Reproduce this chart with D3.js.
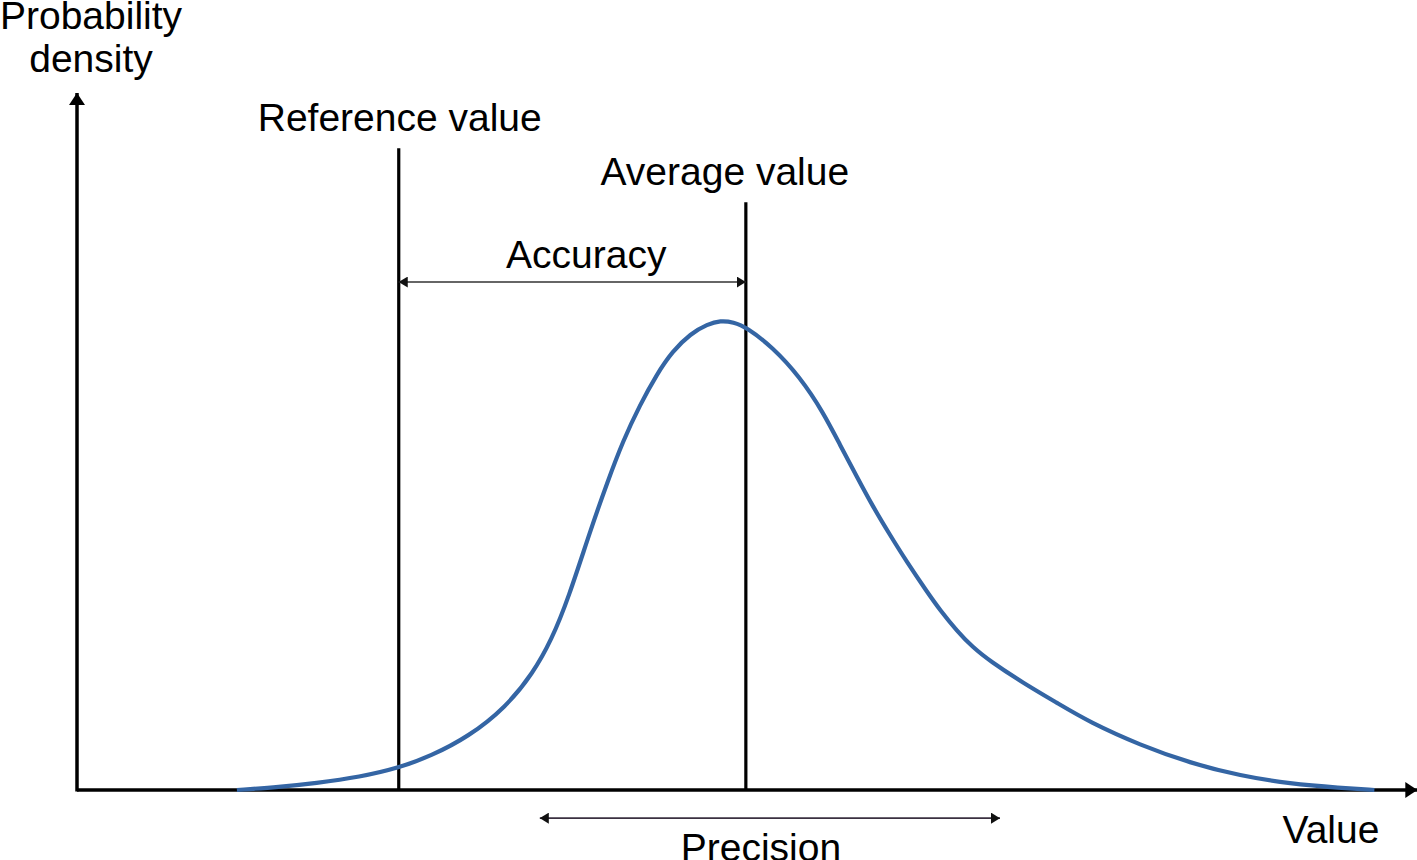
<!DOCTYPE html>
<html>
<head>
<meta charset="utf-8">
<script src="https://cdn.jsdelivr.net/npm/d3@7"></script>
<style>
  html, body { margin: 0; padding: 0; background: #fff; }
  svg { display: block; }
  text { font-family: "Liberation Sans", Arial, sans-serif; fill: #000; }
</style>
</head>
<body>
<div id="chart"></div>
<script>
const values = [12.3, 15.6, 18.3, 21.8, 24.7, 27.2, 30.1, 33.0, 35.1, 36.5, 37.8, 39.5, 40.8, 42.0, 43.3, 44.6, 45.8, 47.2, 48.5, 49.5, 50.5, 51.5, 53.5, 55.6, 57.4, 58.7, 60.0, 61.2, 62.5, 63.8, 65.4, 66.4, 67.7, 68.9, 70.2, 72.8, 75.4, 77.9, 81.8, 85.6, 89.5, 93.3, 97.2, 99.8];
const density = [0, 0.06, 0.13, 0.25, 0.42, 0.65, 1.02, 1.59, 2.25, 2.88, 3.68, 4.99, 5.91, 6.7, 7.39, 7.98, 8.42, 8.76, 8.94, 9.01, 8.98, 8.88, 8.5, 7.93, 7.25, 6.62, 6.01, 5.45, 4.91, 4.39, 3.8, 3.45, 3.05, 2.74, 2.48, 2.05, 1.67, 1.3, 0.86, 0.52, 0.27, 0.12, 0.04, 0];

// reference / average markers
const markerNames = ["Reference value", "Average value"];
const markerValues = [24.75, 51.45];
const markerTops = [12.32, 11.28];

// accuracy and precision spans
const accuracySpan = [24.75, 51.45];
const accuracyLevel = 9.75;
const precisionSpan = [35.6, 71.0];
const precisionLevel = -0.54;

const axisEnd = [103.1, 13.38];
const axisTitles = ["Value", ["Probability", "density"]];

const width = 1417;
const height = 860;

const x = d3.scaleLinear().domain([0, 100]).range([77, 1377]);
const y = d3.scaleLinear().domain([0, 10]).range([790, 269]);

const svg = d3
  .select("#chart")
  .append("svg")
  .attr("width", width)
  .attr("height", height);

const defs = svg.append("defs");
const addMarker = (id, w, h, color) => {
  defs
    .append("marker")
    .attr("id", id)
    .attr("markerUnits", "userSpaceOnUse")
    .attr("viewBox", `0 ${-h} ${w} ${2 * h}`)
    .attr("refX", w)
    .attr("refY", 0)
    .attr("markerWidth", w)
    .attr("markerHeight", 2 * h)
    .attr("orient", "auto-start-reverse")
    .append("path")
    .attr("d", `M0,${-h}L${w},0L0,${h}Z`)
    .attr("fill", color);
};
addMarker("axis-head", 12, 8, "#000");
addMarker("span-head", 9, 5.5, "#111");

// axes
svg
  .append("line")
  .attr("x1", x(0))
  .attr("y1", y(0))
  .attr("x2", x(axisEnd[0]))
  .attr("y2", y(0))
  .attr("stroke", "#000")
  .attr("stroke-width", 3.5)
  .attr("marker-end", "url(#axis-head)");

svg
  .append("line")
  .attr("x1", x(0))
  .attr("y1", y(0) + 1.5)
  .attr("x2", x(0))
  .attr("y2", y(axisEnd[1]))
  .attr("stroke", "#000")
  .attr("stroke-width", 3.5)
  .attr("marker-end", "url(#axis-head)");

// vertical marker lines
svg
  .selectAll("line.marker")
  .data(markerValues)
  .enter()
  .append("line")
  .attr("class", "marker")
  .attr("x1", (d) => x(d))
  .attr("x2", (d) => x(d))
  .attr("y1", y(0))
  .attr("y2", (d, i) => y(markerTops[i]))
  .attr("stroke", "#000")
  .attr("stroke-width", 3.2);

// density curve
const line = d3
  .line()
  .x((d) => x(d[0]))
  .y((d) => y(d[1]))
  .curve(d3.curveBasis);

svg
  .append("path")
  .datum(values.map((v, i) => [v, density[i]]))
  .attr("d", line)
  .attr("fill", "none")
  .attr("stroke", "#3465a4")
  .attr("stroke-width", 4.2);

// accuracy and precision double arrows
const addSpan = (span, level, color) => {
  svg
    .append("line")
    .attr("x1", x(span[0]))
    .attr("x2", x(span[1]))
    .attr("y1", y(level))
    .attr("y2", y(level))
    .attr("stroke", color)
    .attr("stroke-width", 1.6)
    .attr("marker-start", "url(#span-head)")
    .attr("marker-end", "url(#span-head)");
};
addSpan(accuracySpan, accuracyLevel, "#333");
addSpan(precisionSpan, precisionLevel, "#3a3040");

// labels
const addText = (tx, ty, text) => {
  svg
    .append("text")
    .attr("x", tx)
    .attr("y", ty)
    .attr("text-anchor", "middle")
    .attr("font-size", 39)
    .text(text);
};

addText(x(markerValues[0]) + 1, 131, markerNames[0]);
addText(x(markerValues[1]) - 21, 185, markerNames[1]);
addText(x((accuracySpan[0] + accuracySpan[1]) / 2) + 14, 268, "Accuracy");
addText(x((precisionSpan[0] + precisionSpan[1]) / 2) - 9, 861, "Precision");
addText(1331, 843, axisTitles[0]);
addText(91, 29, axisTitles[1][0]);
addText(91, 72, axisTitles[1][1]);
</script>
</body>
</html>
